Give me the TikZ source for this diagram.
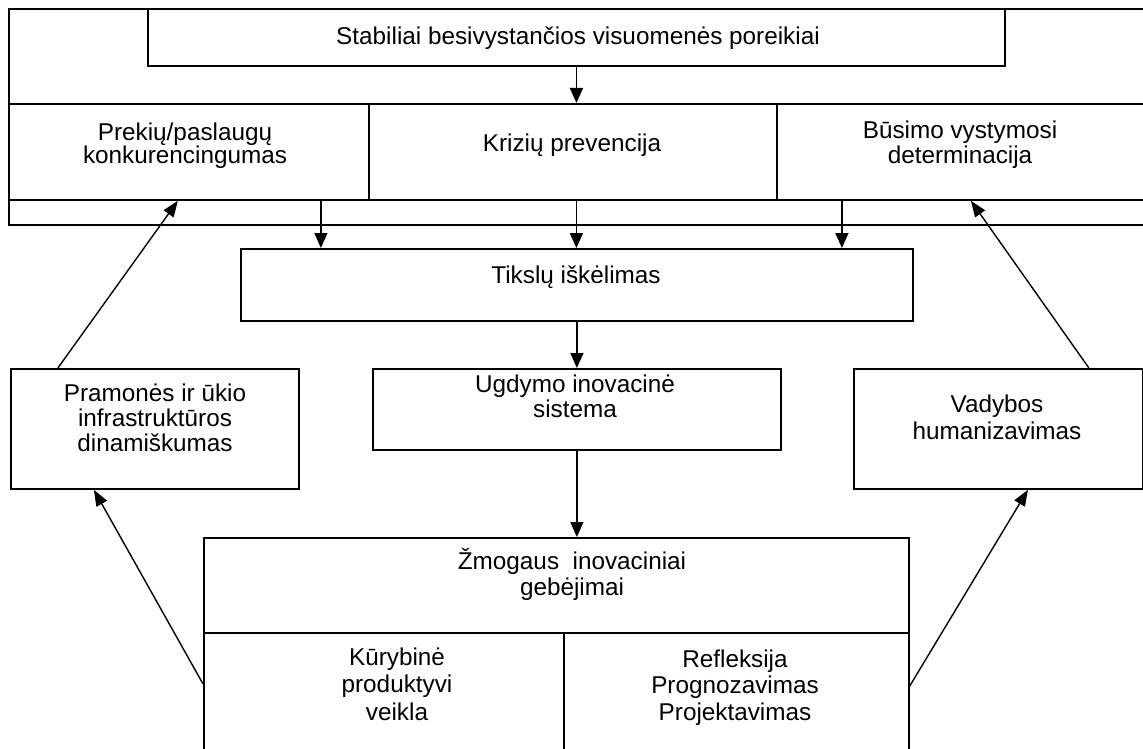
\documentclass[tikz,border=0pt]{standalone}
\usepackage{fontspec}
\setmainfont{Liberation Sans}
\usetikzlibrary{arrows.meta,calc}
\begin{document}
\begin{tikzpicture}[x=1pt,y=-1pt,
  box/.style={draw,line width=1.8pt,rectangle,inner sep=0pt},
  arr/.style={line width=1.6pt,-{Triangle[length=15pt,width=13pt]}},
  darr/.style={line width=1.4pt,-{Triangle[length=16pt,width=12pt]}},
  txt/.style={anchor=base,align=center,inner sep=0pt,font=\fontsize{24.3}{#1}\selectfont},
  txt/.default=25]
\useasboundingbox (0,0) rectangle (1143,749);
\clip (0,0) rectangle (1143,749);
% boxes
\node[box,minimum width=1146pt-8pt,minimum height=216pt,anchor=north west] (outer) at (8,8) {};
\node[box,minimum width=857pt,minimum height=57pt,anchor=north west] (stab) at (147,8) {};
\node[box,minimum width=360pt,minimum height=96pt,anchor=north west] (prek) at (8,103) {};
\node[box,minimum width=408pt,minimum height=96pt,anchor=north west] (kriz) at (368,103) {};
\node[box,minimum width=370pt,minimum height=96pt,anchor=north west] (bus) at (776,103) {};
\node[box,minimum width=672pt,minimum height=72pt,anchor=north west] (tik) at (240,248) {};
\node[box,minimum width=408pt,minimum height=81pt,anchor=north west] (ugd) at (372,368) {};
\node[box,minimum width=288pt,minimum height=120pt,anchor=north west] (pram) at (10,368) {};
\node[box,minimum width=289pt,minimum height=120pt,anchor=north west] (vad) at (853,368) {};
\node[box,minimum width=705pt,minimum height=95pt,anchor=north west] (zm) at (203,537) {};
\node[box,minimum width=360pt,minimum height=130pt,anchor=north west] (kur) at (203,632) {};
\node[box,minimum width=345pt,minimum height=130pt,anchor=north west] (ref) at (563,632) {};
% texts (y = baseline of the last line)
\node[txt] (tstab) at (578,45) {Stabiliai besivystančios visuomenės poreikiai};
\node[txt=24] (tprek) at (185,164) {Prekių/paslaugų\\konkurencingumas};
\node[txt] (tkriz) at (572,151) {Krizių prevencija};
\node[txt=25] (tbus) at (960,164) {Būsimo vystymosi\\determinacija};
\node[txt] (ttik) at (576,283) {Tikslų iškėlimas};
\node[txt=25] (tugd) at (575,417) {Ugdymo inovacinė\\sistema};
\node[txt=25] (tpram) at (155,451) {Pramonės ir ūkio\\infrastruktūros\\dinamiškumas};
\node[txt=27] (tvad) at (997,439) {Vadybos\\humanizavimas};
\node[txt=26] (tzm) at (572,595) {Žmogaus\ \ inovaciniai\\gebėjimai};
\node[txt=27.5] (tkur) at (397,720) {Kūrybinė\\produktyvi\\veikla};
\node[txt=26.5] (tref) at (735,720) {Refleksija\\Prognozavimas\\Projektavimas};
% connectors
\draw[arr] (stab.south) -- (stab.south |- kriz.north);
\draw[arr] ([xshift=132pt]prek.south) -- ([xshift=132pt]prek.south |- tik.north);
\draw[arr] (stab.south |- kriz.south) -- (stab.south |- tik.north);
\draw[arr] ([xshift=-120pt]bus.south) -- ([xshift=-120pt]bus.south |- tik.north);
\draw[arr] (tik.south) -- (tik.south |- ugd.north);
\draw[arr] (ugd.south) -- (ugd.south |- zm.north);
\draw[darr] ([yshift=14pt]kur.west) -- ([xshift=-61pt]pram.south);
\draw[darr] ([xshift=-97pt]pram.north) -- ([xshift=-11pt]prek.south);
\draw[darr] ([yshift=12pt]ref.east) -- ([xshift=29.5pt]vad.south);
\draw[darr] ([xshift=90.5pt]vad.north) -- ([xshift=9pt]bus.south);
\end{tikzpicture}
\end{document}
